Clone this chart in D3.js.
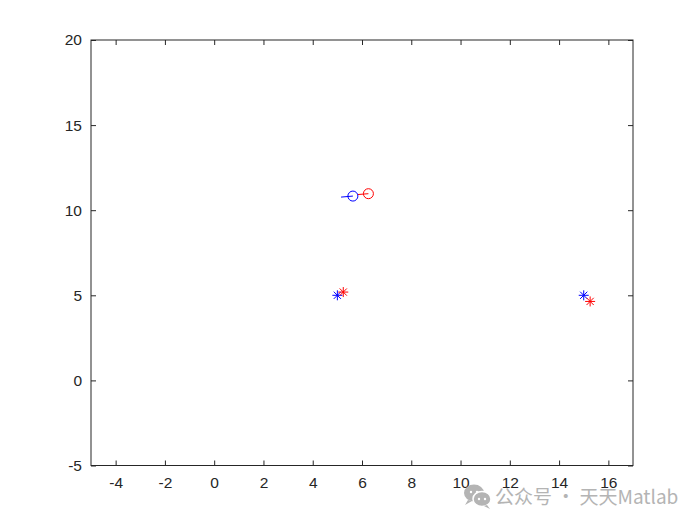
<!DOCTYPE html>
<html><head><meta charset="utf-8">
<script src="https://cdn.jsdelivr.net/npm/d3@7"></script>
<style>body{margin:0;background:#fff}svg{display:block}</style>
</head><body>
<svg id="c" width="700" height="525"></svg>
<script>
// data
const xTicks = [-4,-2,0,2,4,6,8,10,12,14,16];
const yTicks = [-5,0,5,10,15,20];
const xDomain = [-5,17];
const yDomain = [-5,20];
// star markers (goals / start points)
const starsBlue = [{x:5.0,y:5.0},{x:15.0,y:5.0}];
const starsRed  = [{x:5.24,y:5.19},{x:15.26,y:4.64}];
// circle markers (agents) with short trail segments
const circBlue = [{x:5.63,y:10.83}];
const circRed  = [{x:6.26,y:10.97}];
const trailBlue = [[{x:5.15,y:10.77},{x:5.63,y:10.83}]];
const trailRed  = [[{x:5.83,y:10.92},{x:6.26,y:10.97}]];

const svg = d3.select('#c');
const L=91,R=633,T=40,B=465.5;
const x = d3.scaleLinear().domain(xDomain).range([L,R]);
const y = d3.scaleLinear().domain(yDomain).range([B,T]);
const font = "'Liberation Sans', Arial, sans-serif";
const fmt = d => String(d);

svg.append('rect').attr('x',L).attr('y',T).attr('width',R-L).attr('height',B-T)
  .attr('fill','#fff');

const tl=5;
const gx = svg.append('g').attr('transform',`translate(0,${B})`)
  .call(d3.axisBottom(x).tickValues(xTicks).tickSize(-tl).tickPadding(11).tickFormat(fmt));
const gxt = svg.append('g').attr('transform',`translate(0,${T})`)
  .call(d3.axisTop(x).tickValues(xTicks).tickSize(-tl).tickFormat(''));
const gy = svg.append('g').attr('transform',`translate(${L},0)`)
  .call(d3.axisLeft(y).tickValues(yTicks).tickSize(-tl).tickPadding(9).tickFormat(fmt));
const gyr = svg.append('g').attr('transform',`translate(${R},0)`)
  .call(d3.axisRight(y).tickValues(yTicks).tickSize(-tl).tickFormat(''));
[gx,gxt,gy,gyr].forEach(g=>{
  g.select('.domain').remove();
  g.selectAll('line').attr('stroke','#262626');
  g.selectAll('text').attr('fill','#262626').style('font-family',font).style('font-size','15.5px');
});
gx.selectAll('text').attr('dy','0.71em');
svg.append('rect').attr('x',L).attr('y',T).attr('width',R-L).attr('height',B-T)
  .attr('fill','none').attr('stroke','#262626').attr('stroke-width',1);

const line = d3.line().x(d=>x(d.x)).y(d=>y(d.y));
function trails(data,color){
  svg.append('g').selectAll('path').data(data).join('path')
    .attr('d',line).attr('fill','none').attr('stroke',color).attr('stroke-width',1);
}
trails(trailBlue,'#0000ff'); trails(trailRed,'#ff0000');

function circles(data,color){
  svg.append('g').selectAll('circle').data(data).join('circle')
    .attr('cx',d=>x(d.x)).attr('cy',d=>y(d.y)).attr('r',5)
    .attr('fill','none').attr('stroke',color).attr('stroke-width',1);
}
circles(circBlue,'#0000ff'); circles(circRed,'#ff0000');

function stars(data,color){
  const s=5, d2=s*0.72;
  const g = svg.append('g').selectAll('g').data(data).join('g')
    .attr('transform',d=>`translate(${x(d.x)},${y(d.y)})`);
  g.append('path').attr('d',`M${-s},0H${s}M0,${-s}V${s}M${-d2},${-d2}L${d2},${d2}M${-d2},${d2}L${d2},${-d2}`)
    .attr('stroke',color).attr('stroke-width',1).attr('fill','none');
}
stars(starsBlue,'#0000ff'); stars(starsRed,'#ff0000');

// watermark
const wc = '#b4b4b4';
const wm = svg.append('g');
wm.append('ellipse').attr('cx',474).attr('cy',493).attr('rx',10).attr('ry',8.5).attr('fill',wc);
wm.append('path').attr('d','M468,500 L465,505 L472,501Z').attr('fill',wc);
wm.append('ellipse').attr('cx',482).attr('cy',499).attr('rx',9).attr('ry',7.5).attr('fill',wc).attr('stroke','#fff').attr('stroke-width',1.5);
wm.append('path').attr('d','M487,505 L490,509 L484,506Z').attr('fill',wc);
[[471,492],[477,492],[479,499],[485,499]].forEach(p=>wm.append('circle').attr('cx',p[0]).attr('cy',p[1]).attr('r',1.2).attr('fill','#fff'));
wm.append('text').attr('x',495).attr('y',504).attr('fill',wc)
  .style('font-family',"'Noto Sans CJK SC', sans-serif").style('font-size','19px')
  .text('公众号 · 天天Matlab');
</script>
</body></html>
